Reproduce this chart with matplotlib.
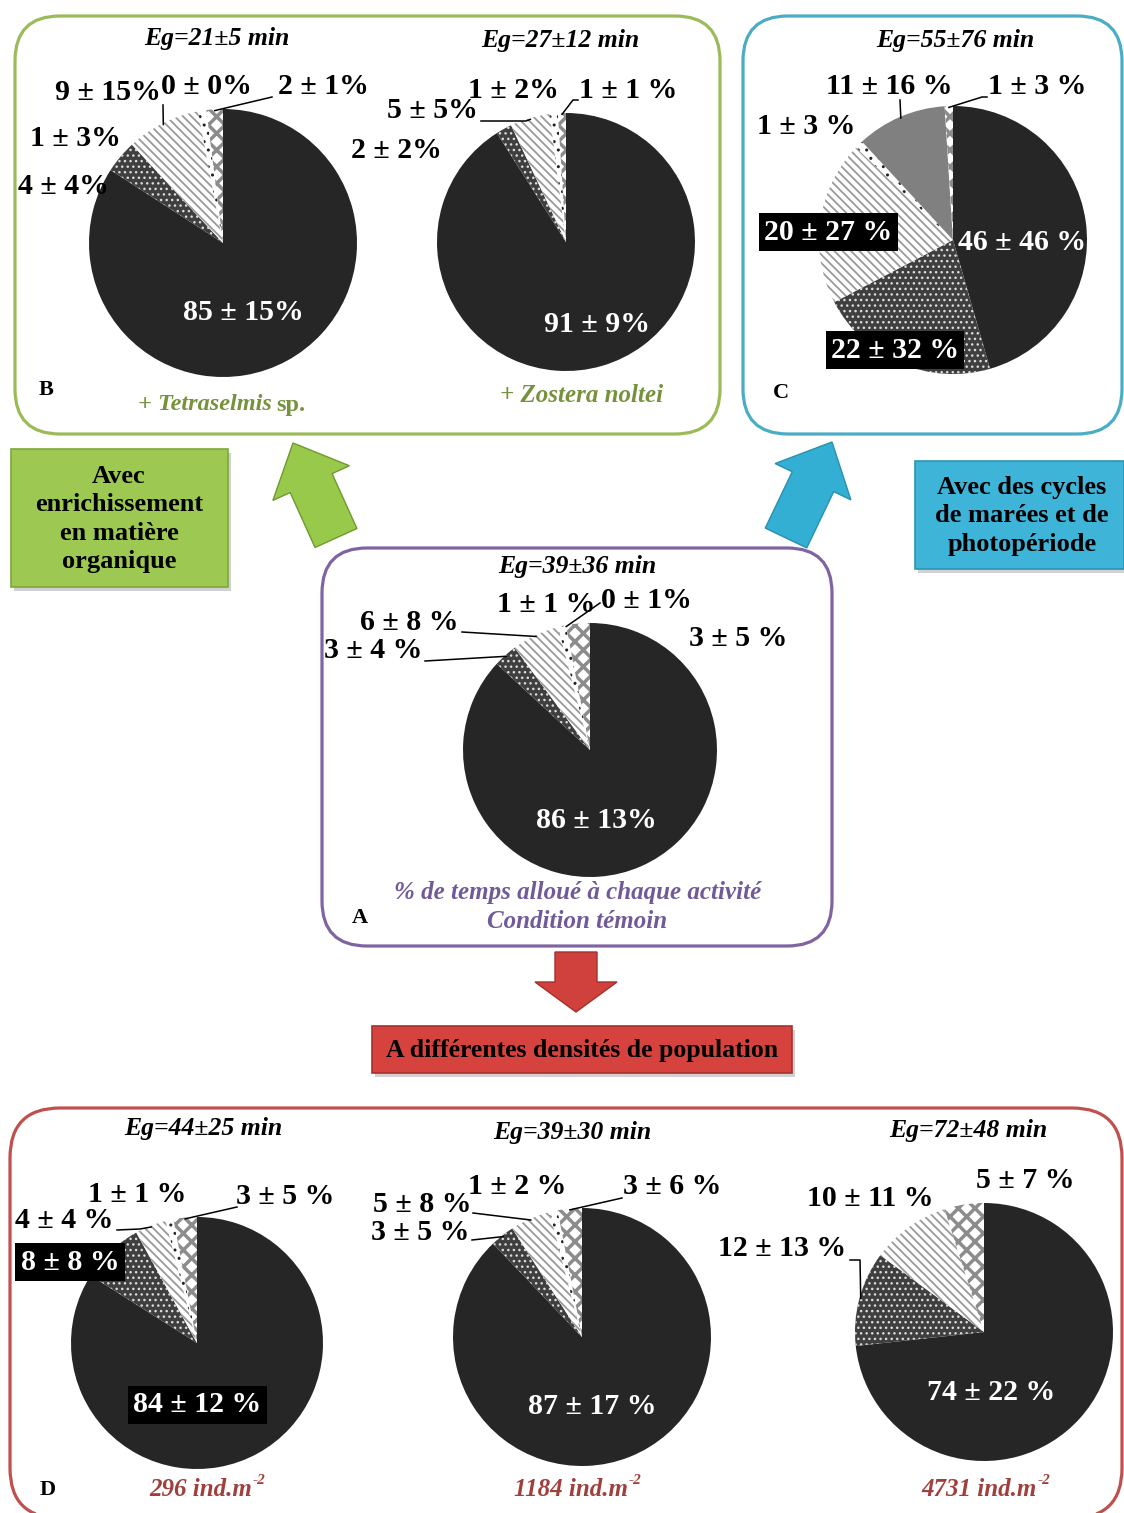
import numpy as np
import matplotlib
matplotlib.use("Agg")
import matplotlib.pyplot as plt
from matplotlib.patches import FancyBboxPatch, FancyArrow, Rectangle, Polygon

W, H = 1124, 1513

# ---------------- data ----------------
activities = ["Activité 1", "Activité 2", "Activité 3", "Activité 4", "Activité 5", "Activité 6"]

B1_values = [85, 4, 9, 1, 0, 2]
B1_labels = ["85 ± 15%", "4 ± 4%", "9 ± 15%", "1 ± 3%", "0 ± 0%", "2 ± 1%"]
B2_values = [91, 2, 5, 1, 0, 1]
B2_labels = ["91 ± 9%", "2 ± 2%", "5 ± 5%", "1 ± 2%", None, "1 ± 1 %"]
C_values = [46, 22, 20, 1, 11, 1]
C_labels = ["46 ± 46 %", "22 ± 32 %", "20 ± 27 %", "1 ± 3 %", "11 ± 16 %", "1 ± 3 %"]
A_values = [86, 3, 6, 1, 0, 3]
A_labels = ["86 ± 13%", "3 ± 4 %", "6 ± 8 %", "1 ± 1 %", "0 ± 1%", "3 ± 5 %"]
D1_values = [84, 8, 4, 1, 0, 3]
D1_labels = ["84 ± 12 %", "8 ± 8 %", "4 ± 4 %", "1 ± 1 %", None, "3 ± 5 %"]
D2_values = [87, 3, 5, 1, 0, 3]
D2_labels = ["87 ± 17 %", "3 ± 5 %", "5 ± 8 %", "1 ± 2 %", None, "3 ± 6 %"]
D3_values = [74, 12, 10, 0, 0, 5]
D3_labels = ["74 ± 22 %", "12 ± 13 %", "10 ± 11 %", None, None, "5 ± 7 %"]

eg_titles = ["Eg=21±5 min", "Eg=27±12 min", "Eg=55±76 min", "Eg=39±36 min",
             "Eg=44±25 min", "Eg=39±30 min", "Eg=72±48 min"]
densities = ["296", "1184", "4731"]

# ---------------- styles / layout ----------------
FONT = "Liberation Serif"
slice_styles = [
    dict(fc="#262626", hatch=None, hc=None, hlw=None),
    dict(fc="#3f3f3f", hatch="...", hc="#dcdcdc", hlw=1.0),
    dict(fc="white", hatch="\\\\\\\\", hc="#9a9a9a", hlw=1.3),
    dict(fc="white", hatch="..", hc="#222222", hlw=1.0),
    dict(fc="#808080", hatch=None, hc=None, hlw=None),
    dict(fc="white", hatch="xx", hc="#8c8c8c", hlw=2.5),
]

# label layout: index -> (x, y, kind, leader_start, knee)
pies = [
    dict(vals=B1_values, labs=B1_labels, c=(223, 243), r=134, title=(217, 39),
         lay={0: (243, 312, "w", None, None), 1: (63, 186, "k", None, None),
              2: (108, 93, "k", (163, 105), None), 3: (75, 138, "k", None, None),
              4: (206, 87, "k", None, None), 5: (323, 86, "k", (272, 97), None)}),
    dict(vals=B2_values, labs=B2_labels, c=(566, 242), r=129, title=(560, 41),
         lay={0: (597, 325, "w", None, None), 1: (396, 151, "k", None, None),
              2: (432, 111, "k", (481, 121), (526, 121)), 3: (513, 90, "k", None, None),
              5: (628, 90, "k", (578, 100), (573, 100))}),
    dict(vals=C_values, labs=C_labels, c=(953, 240), r=134, title=(955, 41),
         lay={0: (1022, 243, "w", None, None), 1: (895, 350, "wb", None, None),
              2: (828, 232, "wb", None, None), 3: (806, 127, "k", None, None),
              4: (889, 86, "k", (900, 100), None), 5: (1037, 87, "k", (987, 97), (982, 97))}),
    dict(vals=A_values, labs=A_labels, c=(590, 750), r=127, title=(577, 567),
         lay={0: (596, 820, "w", None, None), 1: (373, 651, "k", (425, 661), None),
              2: (409, 622, "k", (462, 632), None), 3: (546, 604, "k", None, None),
              4: (646, 601, "k", (600, 603), None), 5: (738, 639, "k", None, None)}),
    dict(vals=D1_values, labs=D1_labels, c=(197, 1343), r=126, title=(203, 1128),
         lay={0: (197, 1405, "wb", None, None), 1: (70, 1262, "wb", None, None),
              2: (64, 1221, "k", (117, 1230), (140, 1229)), 3: (137, 1195, "k", None, None),
              5: (285, 1197, "k", (237, 1207), None)}),
    dict(vals=D2_values, labs=D2_labels, c=(582, 1337), r=129, title=(572, 1133),
         lay={0: (592, 1406, "w", None, None), 1: (420, 1232, "k", (472, 1240), None),
              2: (422, 1204, "k", (473, 1213), None), 3: (517, 1186, "k", None, None),
              5: (672, 1187, "k", (622, 1198), None)}),
    dict(vals=D3_values, labs=D3_labels, c=(984, 1332), r=129, title=(968, 1131),
         lay={0: (991, 1393, "w", None, None), 1: (782, 1249, "k", (850, 1260), (860, 1260)),
              2: (870, 1199, "k", None, None), 5: (1025, 1180, "k", None, None)}),
]

fig = plt.figure(figsize=(W / 100, H / 100), dpi=100)
fig.patch.set_facecolor("white")

bg = fig.add_axes([0, 0, 1, 1])
bg.set_xlim(0, W)
bg.set_ylim(H, 0)
bg.axis("off")


def frame(x0, y0, x1, y1, color, rs=45):
    box = FancyBboxPatch((x0, y0), x1 - x0, y1 - y0,
                         boxstyle=f"round,pad=0,rounding_size={rs}")
    for poly in box.get_path().to_polygons(closed_only=True):
        poly = np.asarray(poly)
        # drop duplicate consecutive points
        keep = np.r_[True, np.any(np.abs(np.diff(poly, axis=0)) > 1e-6, axis=1)]
        poly = poly[keep]
        bg.add_patch(Polygon(poly, closed=True, fill=False, ec=color, lw=2.3,
                             joinstyle="round"))


frame(15, 16, 720, 434, "#9BBB59")
frame(743, 16, 1122, 434, "#4BACC6")
frame(322, 548, 832, 946, "#8064A2")
frame(10, 1108, 1122, 1518, "#C0504D", rs=50)


def label_box(x0, y0, x1, y1, fc, ec, text, cx, cy, size, ls=1.3):
    bg.add_patch(Rectangle((x0 + 3, y0 + 4), x1 - x0, y1 - y0, fc="#000000", alpha=0.18, lw=0))
    bg.add_patch(Rectangle((x0, y0), x1 - x0, y1 - y0, fc=fc, ec=ec, lw=1.2))
    bg.text(cx, cy, text, ha="center", va="center", fontsize=size, fontweight="bold",
            family=FONT, color="black", linespacing=ls)


label_box(11, 449, 228, 587, "#9DC953", "#7FA83A",
          "Avec\nenrichissement\nen matière\norganique", 119, 519, 19)
label_box(915, 461, 1124, 569, "#3DB4D8", "#2E93B3",
          "Avec des cycles\nde marées et de\nphotopériode", 1022, 516, 19)
label_box(372, 1026, 792, 1073, "#D6433E", "#A8302C",
          "A différentes densités de population", 582, 1050, 18.5)


def arrow(tail, tip, width, hw, hl, fc, ec):
    bg.add_patch(FancyArrow(tail[0], tail[1], tip[0] - tail[0], tip[1] - tail[1],
                            width=width, head_width=hw, head_length=hl,
                            length_includes_head=True, fc=fc, ec=ec, lw=1.0))


arrow((336, 538), (293, 443), 46, 84, 44, "#98C94A", "#6E9A2E")
arrow((786, 538), (832, 442), 46, 84, 44, "#33AFD3", "#2A8FB0")
arrow((576, 952), (576, 1012), 42, 82, 30, "#D0403C", "#A52F2B")

# ---------------- pies ----------------
wedge_sets = []
for p in pies:
    cx, cy = p["c"]
    r = p["r"]
    ax = fig.add_axes([(cx - r) / W, 1 - (cy + r) / H, 2 * r / W, 2 * r / H])
    wedges, _ = ax.pie(p["vals"], startangle=90, counterclock=False, radius=1.0,
                       wedgeprops=dict(linewidth=0))
    for w, st in zip(wedges, slice_styles):
        w.set_facecolor(st["fc"])
        if st["hatch"]:
            w.set_edgecolor(st["hc"])
            w.set_hatch(st["hatch"])
            w.set_linewidth(0)
            if hasattr(w, "set_hatch_linewidth"):
                w.set_hatch_linewidth(st["hlw"])
        else:
            w.set_edgecolor("none")
    ax.set_xlim(-1, 1)
    ax.set_ylim(-1, 1)
    ax.axis("off")
    wedge_sets.append(wedges)

# ---------------- overlay texts ----------------
ov = fig.add_axes([0, 0, 1, 1])
ov.set_xlim(0, W)
ov.set_ylim(H, 0)
ov.axis("off")
ov.patch.set_alpha(0)

LSIZE = 21.5
for p, wedges in zip(pies, wedge_sets):
    cx, cy = p["c"]
    r = p["r"]
    for i, (x, y, kind, lead, knee) in p["lay"].items():
        txt = p["labs"][i]
        if txt is None:
            continue
        kw = dict(ha="center", va="center", fontsize=LSIZE, fontweight="bold", family=FONT)
        if kind == "w":
            ov.text(x, y, txt, color="white", **kw)
        elif kind == "wb":
            ov.text(x, y, txt, color="white",
                    bbox=dict(boxstyle="square,pad=0.18", fc="black", ec="none"), **kw)
        else:
            ov.text(x, y, txt, color="black", **kw)
        if lead is not None:
            w = wedges[i]
            mid = np.deg2rad((w.theta1 + w.theta2) / 2)
            ex = cx + 0.99 * r * np.cos(mid)
            ey = cy - 0.99 * r * np.sin(mid)
            xs = [lead[0]] + ([knee[0]] if knee else []) + [ex]
            ys = [lead[1]] + ([knee[1]] if knee else []) + [ey]
            ov.plot(xs, ys, color="black", lw=1.1)

for (tx, ty), t in zip([p["title"] for p in pies], eg_titles):
    ov.text(tx, ty, t, ha="center", va="center", fontsize=18.5, fontweight="bold",
            fontstyle="italic", family=FONT, color="black")

# panel letters
for t, (x, y) in zip(["B", "C", "A", "D"], [(46, 390), (781, 393), (360, 918), (48, 1490)]):
    ov.text(x, y, t, ha="center", va="center", fontsize=16, fontweight="bold",
            family=FONT, color="black")

GREEN = "#76923C"
ov.text(272, 405, "+ Tetraselmis", ha="right", va="center", fontsize=17.5, fontweight="bold",
        fontstyle="italic", family=FONT, color=GREEN)
ov.text(276, 405, "sp.", ha="left", va="center", fontsize=17.5, fontweight="bold",
        family=FONT, color=GREEN)
ov.text(582, 396, "+ Zostera noltei", ha="center", va="center", fontsize=18,
        fontweight="bold", fontstyle="italic", family=FONT, color=GREEN)

PURPLE = "#705A9A"
ov.text(578, 893, "% de temps alloué à chaque activité", ha="center", va="center",
        fontsize=18, fontweight="bold", fontstyle="italic", family=FONT, color=PURPLE)
ov.text(577, 922, "Condition témoin", ha="center", va="center",
        fontsize=18, fontweight="bold", fontstyle="italic", family=FONT, color=PURPLE)

RED = "#A0403D"
for d, xe in zip(densities, [252, 628, 1037]):
    ov.text(xe, 1490, f"{d} ind.m", ha="right", va="center", fontsize=18, fontweight="bold",
            fontstyle="italic", family=FONT, color=RED)
    ov.text(xe + 1, 1481, "-2", ha="left", va="center", fontsize=11, fontweight="bold",
            fontstyle="italic", family=FONT, color=RED)

fig.savefig("out.png", dpi=100, facecolor="white")
